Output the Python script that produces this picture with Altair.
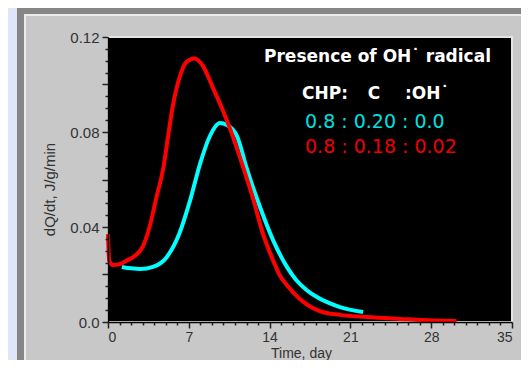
import altair as alt
import pandas as pd

# ---- data ----
red_t = [0.0, 0.1, 0.4, 1.0, 1.6, 2.2, 3.0, 3.6, 4.2, 4.8, 5.2, 5.6, 6.2, 6.8, 7.5,
         8.2, 9.1, 10.0, 10.6, 11.7, 12.6, 13.4, 14.3, 14.9, 15.5, 16.6, 17.5, 18.4,
         20.1, 22.4, 25.3, 28.2, 30.2]
red_v = [0.0370, 0.0260, 0.0240, 0.0243, 0.0258, 0.0274, 0.0316, 0.0400, 0.0526,
         0.0650, 0.0780, 0.0905, 0.1030, 0.1095, 0.1110, 0.1080, 0.0985, 0.0885,
         0.0810, 0.0653, 0.0514, 0.0375, 0.0260, 0.0195, 0.0155, 0.0098, 0.0065,
         0.0045, 0.0030, 0.0021, 0.0013, 0.0006, 0.0004]
cyan_t = [1.2, 2.0, 2.8, 3.9, 5.1, 6.2, 7.1, 8.0, 8.8, 9.7, 10.3, 11.2, 12.0, 13.2,
          14.3, 15.5, 16.3, 17.2, 18.1, 20.1, 22.1]
cyan_v = [0.0232, 0.0226, 0.0223, 0.0232, 0.0274, 0.0375, 0.0510, 0.0670, 0.0780,
          0.0838, 0.0830, 0.0780, 0.0650, 0.0480, 0.0345, 0.0232, 0.0177, 0.0135,
          0.0105, 0.0063, 0.0042]
series = ["cyan", "red"]
series_colors = ["#00ffff", "#ff0000"]

x_ticks = list(range(0, 36))
y_ticks = [round(i * 0.005, 3) for i in range(25)]

title_text = "Presence of OH˙ radical"
head_texts = ["CHP:", "C", ":OH˙"]
ratio_texts = ["0.8 : 0.20 : 0.0", "0.8 : 0.18 : 0.02"]

W, H = 404, 285

df = pd.concat([
    pd.DataFrame({"t": cyan_t, "v": cyan_v, "s": "cyan"}),
    pd.DataFrame({"t": red_t, "v": red_v, "s": "red"}),
])

one = pd.DataFrame({"k": [0]})


def box(x, x2, y, y2, fill, stroke=None, sw=0):
    kw = dict(fill=fill, strokeWidth=sw)
    if stroke:
        kw["stroke"] = stroke
    return alt.Chart(one).mark_rect(**kw).encode(
        x=alt.value(x), x2=alt.value(x2), y=alt.value(y), y2=alt.value(y2))


frame = box(-91, W + 40, -30, H + 60, "#868686")
bevel = box(-84, W + 40, -23, H + 60, "#ececec")
panel = box(-82, W + 40, -21, H + 60, "#c8c8c8")
plotbg = box(0, W, 0, H, "#000000", stroke="#e4e4e4", sw=2)

xaxis = alt.Axis(
    values=x_ticks,
    labelExpr="datum.value % 7 === 0 ? datum.label : ''",
    tickSize={"condition": {"test": "datum.value % 7 === 0", "value": 6}, "value": 3},
    title="Time, day", grid=False, zindex=1,
    domainColor="#000000", domainWidth=1.5, tickColor="#222222", tickWidth=1.5,
    labelFont="Liberation Sans", labelFontSize=14, labelColor="#333333", labelPadding=2,
    titleFont="Liberation Sans", titleFontSize=14, titleFontWeight="normal",
    titleColor="#333333", titleX=193, titleY=38, titleBaseline="bottom",
    labelOverlap=False,
)
yaxis = alt.Axis(
    values=y_ticks,
    labelExpr="abs(datum.value/0.04 - round(datum.value/0.04)) < 1e-6 ? "
              "(datum.value === 0 ? '0.0' : format(datum.value, '.2f')) : ''",
    tickSize={"condition": {"test": "abs(datum.value/0.02 - round(datum.value/0.02)) < 1e-6",
                            "value": 6}, "value": 3},
    title="dQ/dt, J/g/min", grid=False, zindex=1,
    domainColor="#000000", domainWidth=1.5, tickColor="#222222", tickWidth=1.5,
    labelFont="Liberation Sans", labelFontSize=15, labelColor="#333333", labelPadding=3,
    titleFont="Liberation Sans", titleFontSize=15, titleFontWeight="normal",
    titleColor="#333333", titleX=-59, titleY=152, titleBaseline="middle",
    labelOverlap=False,
)

lines = alt.Chart(df).mark_line(strokeWidth=4, interpolate="monotone").encode(
    x=alt.X("t:Q", scale=alt.Scale(domain=[0, 35], nice=False), axis=xaxis),
    y=alt.Y("v:Q", scale=alt.Scale(domain=[0, 0.12], nice=False), axis=yaxis),
    color=alt.Color("s:N", scale=alt.Scale(domain=series, range=series_colors), legend=None),
    order=alt.Order("t:Q"),
)


def label(txt, x, y, color, size, weight="normal", align="left"):
    return alt.Chart(pd.DataFrame({"txt": [txt]})).mark_text(
        font="DejaVu Sans", fontSize=size, fontWeight=weight, color=color,
        align=align, baseline="middle",
    ).encode(x=alt.value(x), y=alt.value(y), text="txt:N")


texts = [
    label(title_text, 269.5, 20, "#ffffff", 17, "bold", "center"),
    label(head_texts[0], 240, 57, "#ffffff", 17, "bold", "right"),
    label(head_texts[1], 266, 57, "#ffffff", 17, "bold", "center"),
    label(head_texts[2], 297, 57, "#ffffff", 17, "bold", "left"),
    label(ratio_texts[0], 197, 85, "#00e0e0", 19),
    label(ratio_texts[1], 197, 110, "#ee0000", 19),
]

chart = alt.layer(frame, bevel, panel, plotbg, lines, *texts).properties(
    width=W, height=H,
    padding={"left": 100, "top": 29, "right": 9, "bottom": 38},
    autosize=alt.AutoSizeParams(type="none"),
    background="#dfe6f8",
).configure_view(strokeWidth=0)

chart.save("out.html", embed_options={"renderer": "svg", "actions": False})
